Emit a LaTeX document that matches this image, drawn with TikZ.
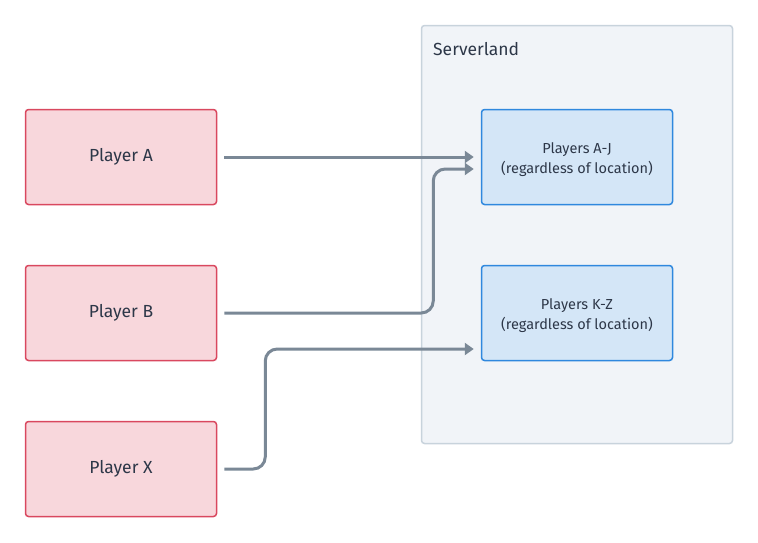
\documentclass[tikz,border=0pt]{standalone}
\usepackage{fontspec}
\setmainfont{Fira Sans}
\usetikzlibrary{arrows.meta,calc}
\definecolor{txt}{HTML}{2D3748}
\definecolor{redfill}{HTML}{F8D7DC}
\definecolor{redline}{HTML}{D9485F}
\definecolor{bluefill}{HTML}{D4E6F7}
\definecolor{blueline}{HTML}{2F88DE}
\definecolor{srvfill}{HTML}{F1F4F8}
\definecolor{srvline}{HTML}{C8D3DC}
\definecolor{conn}{HTML}{7A8896}
\tikzset{
  player/.style={draw=redline,fill=redfill,line width=1.5pt,rounded corners=3pt,minimum width=191pt,minimum height=95pt,text=txt,font=\fontsize{17.5}{20}\selectfont,inner sep=0pt},
  shard/.style={draw=blueline,fill=bluefill,line width=1.5pt,rounded corners=3pt,minimum width=191pt,minimum height=95pt,inner sep=0pt},
  shardtext/.style={text=txt,font=\fontsize{14.5}{20}\selectfont,align=center,inner sep=0pt},
  conline/.style={draw=conn,line width=3pt,rounded corners=12pt,-{Triangle[length=9pt,width=12pt]}}
}
\begin{document}
\begin{tikzpicture}[x=1pt,y=-1pt]
\useasboundingbox (0,0) rectangle (758,542);
\node[draw=srvline,fill=srvfill,line width=1.5pt,rounded corners=3pt,minimum width=311pt,minimum height=418pt,inner sep=0pt] (srv) at (577,234.5) {};
\node[anchor=west,text=txt,font=\fontsize{17.5}{20}\selectfont,inner sep=0pt] (srvlabel) at (433,49) {Serverland};
\node[player] (pa) at (121,157) {Player A};
\node[player] (pb) at (121,313) {Player B};
\node[player] (px) at (121,469) {Player X};
\node[shard] (aj) at (577,157) {};
\node[shard] (kz) at (577,313) {};
\node[shardtext] (ajt) at ([yshift=-2.5]aj.center) {Players A-J\\(regardless of location)};
\node[shardtext] (kzt) at ([yshift=-2.5]kz.center) {Players K-Z\\(regardless of location)};
\draw[conline] ($(pa.east)+(7,0)$) -- ($(aj.west)+(-7,0)$);
\draw[conline] ($(pb.east)+(7,0)$) -- ($(pb.east)+(216,0)$) |- ($(aj.west)+(-7,12)$);
\draw[conline] ($(px.east)+(7,0)$) -- ($(px.east)+(48,0)$) |- ($(kz.west)+(-7,36)$);
\end{tikzpicture}
\end{document}
